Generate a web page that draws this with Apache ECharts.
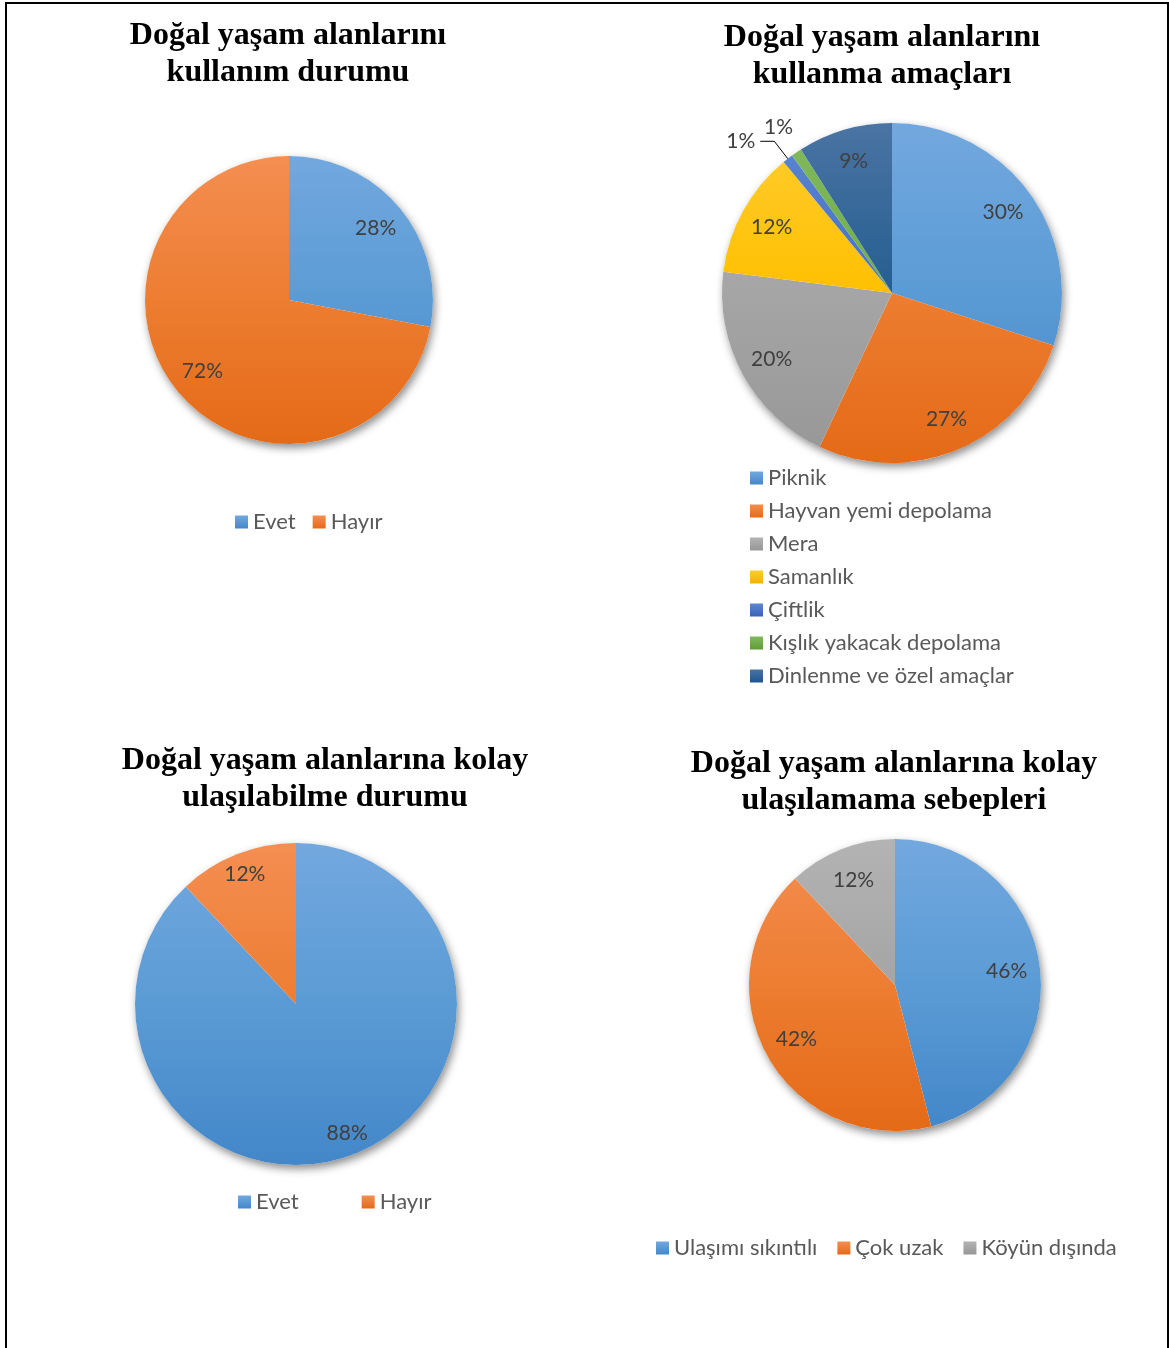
<!DOCTYPE html>
<html>
<head>
<meta charset="utf-8">
<script src="https://cdn.jsdelivr.net/npm/echarts@6/dist/echarts.min.js"></script>
<style>
html,body{margin:0;padding:0;background:#fff;}
#chart{position:absolute;left:0;top:0;width:1169px;height:1348px;}
#frame{position:absolute;left:5px;top:2px;width:1164px;height:1360px;box-sizing:border-box;border:2px solid #000;border-bottom:none;pointer-events:none;}
</style>
</head>
<body>
<div id="chart"></div>
<div id="frame"></div>
<script>
// ---- Data ----
const titles = [
  'Doğal yaşam alanlarını\nkullanım durumu',
  'Doğal yaşam alanlarını\nkullanma amaçları',
  'Doğal yaşam alanlarına kolay\nulaşılabilme durumu',
  'Doğal yaşam alanlarına kolay\nulaşılamama sebepleri'
];
const usageCategories = ['Evet', 'Hayır'];
const usageValues = [28, 72];
const purposeCategories = ['Piknik', 'Hayvan yemi depolama', 'Mera', 'Samanlık', 'Çiftlik', 'Kışlık yakacak depolama', 'Dinlenme ve özel amaçlar'];
const purposeValues = [30, 27, 20, 12, 1, 1, 9];
const accessCategories = ['Evet', 'Hayır'];
const accessValues = [88, 12];
const reasonCategories = ['Ulaşımı sıkıntılı', 'Çok uzak', 'Köyün dışında'];
const reasonValues = [46, 42, 12];

// ---- Styles ----
const palette = {
  blue:   ['#72A8DE', '#5B9BD5', '#4387C9'],
  orange: ['#F48E52', '#ED7D31', '#E46A17'],
  gray:   ['#B3B3B3', '#A5A5A5', '#979797'],
  gold:   ['#FFCD33', '#FFC000', '#EEB400'],
  royal:  ['#5E86D2', '#4472C4', '#3862B5'],
  green:  ['#82BA5E', '#70AD47', '#5F9C38'],
  navy:   ['#4A74A3', '#255E91', '#1D5590']
};
const layouts = [
  {cx: 289, cy: 300, r: 144, colors: ['blue', 'orange'], labelR: 0.52},
  {cx: 892, cy: 293, r: 170, colors: ['blue', 'orange', 'gray', 'gold', 'royal', 'green', 'navy'], labelR: 0.58},
  {cx: 296, cy: 1004, r: 161, colors: ['blue', 'orange'], labelR: 0.69},
  {cx: 895, cy: 985, r: 146, colors: ['blue', 'orange', 'gray'], labelR: 0.50}
];
const datasets = [
  [usageCategories, usageValues],
  [purposeCategories, purposeValues],
  [accessCategories, accessValues],
  [reasonCategories, reasonValues]
];
const titlePos = [
  {x: 288, top: 17}, {x: 882, top: 19}, {x: 325, top: 742}, {x: 894, top: 745}
];
const labelFont = 'Lato, "Open Sans", sans-serif';

function grad(L, key) {
  const c = palette[key];
  return new echarts.graphic.LinearGradient(0, L.cy - L.r, 0, L.cy + L.r, [
    {offset: 0, color: c[0]}, {offset: 0.5, color: c[1]}, {offset: 1, color: c[2]}
  ], true);
}

const series = [];
const title = [];
layouts.forEach(function (L, i) {
  const cats = datasets[i][0], vals = datasets[i][1];
  title.push({
    text: titles[i], left: titlePos[i].x, top: titlePos[i].top, textAlign: 'center', padding: 0,
    textStyle: {fontFamily: '"Liberation Serif", "Times New Roman", serif', fontWeight: 'bold', fontSize: 32, lineHeight: 37, color: '#000'}
  });
  // shadow disk
  series.push({
    type: 'pie', silent: true, center: [L.cx, L.cy], radius: [0, L.r], z: 1,
    label: {show: false}, labelLine: {show: false}, animation: false,
    itemStyle: {color: '#ffffff', shadowBlur: 9, shadowOffsetX: 2, shadowOffsetY: 4, shadowColor: 'rgba(0,0,0,0.45)'},
    data: [{name: '__shadow' + i, value: vals.reduce(function (a, b) { return a + b; }, 0)}]
  });
  // main pie
  series.push({
    type: 'pie', center: [L.cx, L.cy], radius: [0, L.r], z: 2, startAngle: 90, clockwise: true,
    animation: false, label: {show: false}, labelLine: {show: false}, emphasis: {disabled: true},
    data: cats.map(function (n, k) { return {name: n, value: vals[k], itemStyle: {color: grad(L, L.colors[k])}}; })
  });
  // label overlay
  series.push({
    type: 'pie', center: [L.cx, L.cy], radius: [L.r * L.labelR, L.r], z: 3, startAngle: 90, clockwise: true,
    animation: false, silent: true, avoidLabelOverlap: false, emphasis: {disabled: true},
    itemStyle: {color: 'rgba(0,0,0,0)'},
    label: {show: true, position: 'inside', formatter: '{c}%', fontFamily: labelFont, fontSize: 21, color: '#404040'},
    labelLine: {show: false},
    data: cats.map(function (n, k) {
      const d = {name: n, value: vals[k]};
      if (i === 1 && k === 4) {
        d.label = {position: 'outside', distanceToLabelLine: 5};
        d.labelLine = {show: true, length: 22, length2: 14, lineStyle: {color: '#000', width: 1}};
      }
      if (i === 1 && k === 5) {
        d.label = {position: 'outside', distanceToLabelLine: -14};
        d.labelLine = {show: false, length: 31, length2: 0};
      }
      return d;
    })
  });
});

function legendData(cats, L) {
  return cats.map(function (n, k) { return {name: n, itemStyle: {color: new echarts.graphic.LinearGradient(0, 0, 0, 1, [{offset: 0, color: palette[L.colors[k]][0]}, {offset: 1, color: palette[L.colors[k]][2]}])}}; });
}
const legendText = {fontFamily: labelFont, fontSize: 22, color: '#595959'};
const legendBase = {itemWidth: 13, itemHeight: 13, itemTextGap: 7, textStyle: legendText, icon: 'rect', selectedMode: false, padding: 0};
const legend = [
  Object.assign({data: legendData(usageCategories, layouts[0]), left: 235, top: 511, orient: 'horizontal', itemGap: 17}, legendBase),
  Object.assign({data: legendData(purposeCategories, layouts[1]), left: 750, top: 467, orient: 'vertical', itemGap: 11}, legendBase),
  Object.assign({data: legendData(accessCategories, layouts[2]), left: 238, top: 1191, orient: 'horizontal', itemGap: 63}, legendBase),
  Object.assign({data: legendData(reasonCategories, layouts[3]), left: 656, top: 1237, orient: 'horizontal', itemGap: 20}, legendBase)
];

const chart = echarts.init(document.getElementById('chart'), null, {renderer: 'canvas'});
chart.setOption({backgroundColor: '#fff', animation: false, title: title, legend: legend, series: series});
</script>
</body>
</html>
